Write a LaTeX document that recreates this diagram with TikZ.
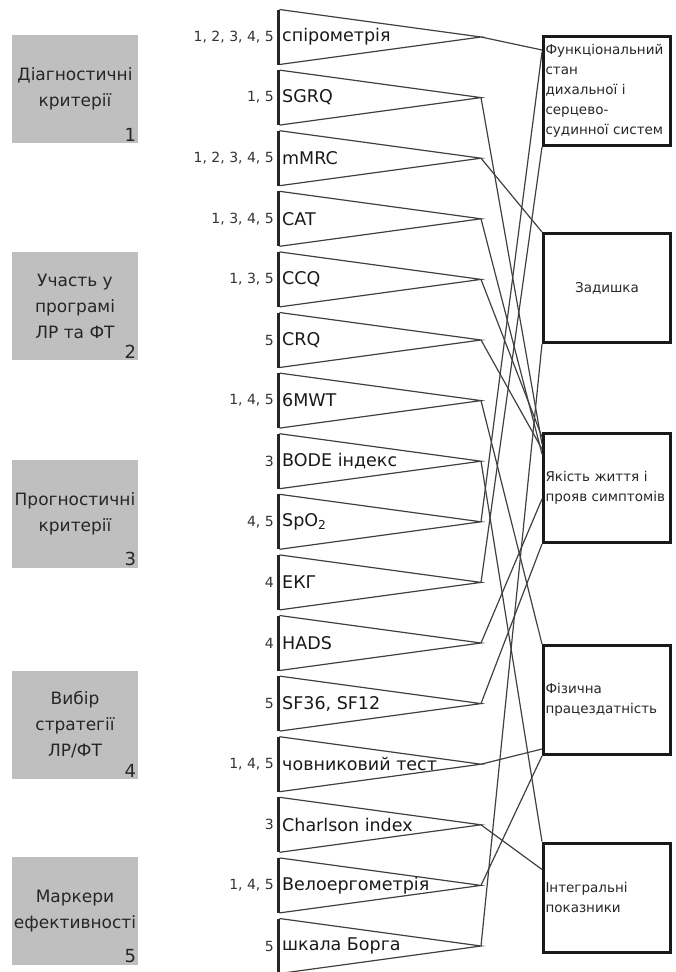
\documentclass[tikz,border=0pt]{standalone}
\usepackage{fontspec}
\setmainfont{DejaVu Sans}
\begin{document}
\begin{tikzpicture}[x=1pt,y=-1pt,
    gbox/.style={fill=black!25, minimum width=126pt, minimum height=108pt, inner sep=0pt,
        align=center, text=black!85, font=\fontsize{17}{26}\selectfont},
    gnum/.style={anchor=south east, inner sep=2pt, text=black!85, font=\fontsize{18}{18}\selectfont},
    rbox/.style={draw=black!90, line width=3pt, minimum width=127pt, minimum height=109pt,
        text width=123pt, inner sep=2pt, align=left, text=black!85, font=\fontsize{13.5}{20}\selectfont},
    item/.style={anchor=west, inner sep=2pt, text=black!90, font=\fontsize{17.5}{20}\selectfont},
    refs/.style={anchor=east, inner sep=1pt, text=black!80, font=\fontsize{14}{16}\selectfont},
    bar/.style={line width=3pt, black!85},
    fan/.style={line width=1.2pt, black!75},
    link/.style={line width=1.2pt, black!75}]
    \useasboundingbox (0,0) rectangle (676,972);

    % Groups of criteria
    \node[gbox] (diag) at (75,89) {Діагностичні\\критерії};
    \node[gnum] (diag-n) at (diag.south east) {1};
    \node[gbox] (part) at (75,306) {Участь у\\програмі\\ЛР та ФТ};
    \node[gnum] (part-n) at (part.south east) {2};
    \node[gbox] (progn) at (75,514) {Прогностичні\\критерії};
    \node[gnum] (progn-n) at (progn.south east) {3};
    \node[gbox] (strat) at (75,725) {Вибір\\стратегії\\ЛР/ФТ};
    \node[gnum] (strat-n) at (strat.south east) {4};
    \node[gbox] (mark) at (75,911) {Маркери\\ефективності};
    \node[gnum] (mark-n) at (mark.south east) {5};

    % Brackets of the methods
    \foreach \i in {0,...,15} {
        \pgfmathsetmacro\yy{37+60.6*\i}
        \coordinate (t\i) at (481,\yy);
        \draw[fan] (279.5,\yy-27.5) -- (t\i) -- (279.5,\yy+27.5);
        \draw[bar] (278,\yy-27.5) -- (278,\yy+27.5);
    }

    % Methods
    \node[refs] (r0) at (275,37) {1, 2, 3, 4, 5};
    \node[item] (spiro) at (280,37) {спірометрія};
    \node[refs] (r1) at (275,97.6) {1, 5};
    \node[item] (sgrq) at (280,97.6) {SGRQ};
    \node[refs] (r2) at (275,158.2) {1, 2, 3, 4, 5};
    \node[item] (mmrc) at (280,158.2) {mMRC};
    \node[refs] (r3) at (275,218.8) {1, 3, 4, 5};
    \node[item] (cat) at (280,218.8) {CAT};
    \node[refs] (r4) at (275,279.4) {1, 3, 5};
    \node[item] (ccq) at (280,279.4) {CCQ};
    \node[refs] (r5) at (275,340) {5};
    \node[item] (crq) at (280,340) {CRQ};
    \node[refs] (r6) at (275,400.6) {1, 4, 5};
    \node[item] (mwt) at (280,400.6) {6MWT};
    \node[refs] (r7) at (275,461.2) {3};
    \node[item] (bode) at (280,461.2) {BODE індекс};
    \node[refs] (r8) at (275,521.8) {4, 5};
    \node[item] (spo) at (280,521.8) {SpO\textsubscript{2}};
    \node[refs] (r9) at (275,582.4) {4};
    \node[item] (ekg) at (280,582.4) {ЕКГ};
    \node[refs] (r10) at (275,643) {4};
    \node[item] (hads) at (280,643) {HADS};
    \node[refs] (r11) at (275,703.6) {5};
    \node[item] (sf) at (280,703.6) {SF36, SF12};
    \node[refs] (r12) at (275,764.2) {1, 4, 5};
    \node[item] (shuttle) at (280,764.2) {човниковий тест};
    \node[refs] (r13) at (275,824.8) {3};
    \node[item] (charl) at (280,824.8) {Charlson index};
    \node[refs] (r14) at (275,885.4) {1, 4, 5};
    \node[item] (bike) at (280,885.4) {Велоергометрія};
    \node[refs] (r15) at (275,946) {5};
    \node[item] (borg) at (280,946) {шкала Борга};

    % Assessed domains
    \node[rbox] (func) at (607,91) {Функціональний\\стан\\дихальної і\\серцево-\\судинної систем};
    \node[rbox, align=center] (dysp) at (607,288) {Задишка};
    \node[rbox] (qol) at (607,488) {Якість життя і\\прояв симптомів};
    \node[rbox] (phys) at (607,700) {Фізична\\працездатність};
    \node[rbox] (integ) at (607,897.5) {Інтегральні\\показники};

    % Links
    \draw[link] (t0) -- ([yshift=-15pt]func.north west);
    \draw[link] (t1) -- ([yshift=-12pt]qol.north west);
    \draw[link] (t2) -- (dysp.north west);
    \draw[link] (t3) -- ([yshift=-22pt]qol.north west);
    \draw[link] (t4) -- ([yshift=-5pt]qol.north west);
    \draw[link] (t5) -- ([yshift=-17pt]qol.north west);
    \draw[link] (t6) -- (phys.north west);
    \draw[link] (t7) -- (integ.north west);
    \draw[link] (t8) -- ([yshift=-17pt]func.north west);
    \draw[link] (t9) -- (func.south west);
    \draw[link] (t10) -- ([yshift=-67pt]qol.north west);
    \draw[link] (t11) -- (qol.south west);
    \draw[link] (t12) -- ([yshift=7pt]phys.south west);
    \draw[link] (t13) -- ([yshift=-28pt]integ.north west);
    \draw[link] (t14) -- (phys.south west);
    \draw[link] (t15) -- (dysp.south west);
\end{tikzpicture}
\end{document}
